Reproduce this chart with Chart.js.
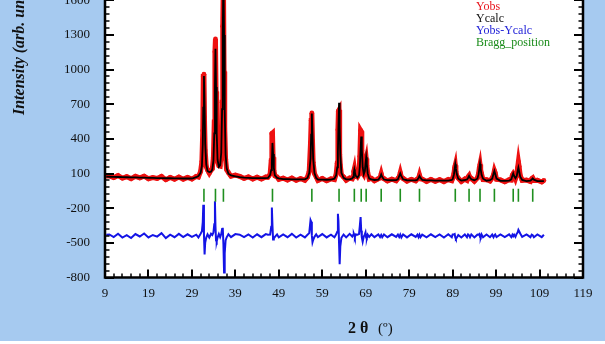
<!DOCTYPE html>
<html><head><meta charset="utf-8">
<script src="https://cdn.jsdelivr.net/npm/chart.js@4/dist/chart.umd.min.js"></script>
<style>
html,body{margin:0;padding:0;background:#fff;overflow:hidden;}
#wrap{position:relative;width:605px;height:341px;overflow:hidden;background:#A6CAF0;}
#c{position:absolute;left:0;top:-45px;width:605px;height:389px;}
</style></head><body>
<div id="wrap"><canvas id="c" width="605" height="389"></canvas></div>
<script>
// ---- data ----
const twoTheta = [9.3,10,11,12,13,14,15,16,17,18,19,20,21,22,23,24,25,26,27,28,29,
 30,30.5,31,31.3,31.5,31.62,31.77,31.92,32.05,32.3,32.6,33,33.4,33.7,33.95,34.15,34.3,34.42,34.55,34.7,34.9,35.2,35.5,35.75,35.95,36.1,36.25,36.4,36.55,36.75,37,37.4,38,39,
 40,41,42,43,44,45,46,46.5,47,47.25,47.4,47.54,47.68,47.85,48.1,48.6,49,
 50,51,52,53,54,55,55.6,56,56.3,56.45,56.6,56.75,56.9,57.2,57.6,
 58,59,60,61,61.8,62.2,62.45,62.6,62.72,62.86,63,63.15,63.4,63.9,
 64.5,65.3,65.9,66.1,66.25,66.38,66.5,66.7,
 67.1,67.45,67.65,67.82,67.96,68.1,68.3,68.55,68.8,68.95,69.1,69.25,69.45,69.8,70.3,
 71,71.9,72.3,72.56,72.8,73.2,74,75,76,76.4,76.7,76.95,77.2,77.6,78.5,79.5,80.5,80.9,81.15,81.37,81.6,82,
 83,84,85,86,87,88,88.8,89,89.3,89.47,89.61,89.75,89.95,90.3,91,91.8,92.3,92.55,92.78,93,93.3,94,94.7,94.95,95.15,95.3,95.45,95.65,96,96.8,97.6,98.1,98.4,98.61,98.8,99.1,
 100,101,102,102.5,102.75,102.94,103.15,103.45,103.75,103.95,104.13,104.3,104.55,105,106,106.9,107.2,107.43,107.7,108.5,109.5,110];

const yCalc = [73,72,71,70,69,68,67,66,65,64,63,62,61,60,59,59,58,58,57,57,57,
 68,78,106,165,351,671,945,680,360,176,122,112,116,136,211,447,854,1180,850,453,220,158,172,280,657,1305,1870,1299,645,263,145,99,84,76,
 68,65,63,61,60,60,60,62,88,130,200,365,270,150,85,62,58,
 52,51,50,50,49,50,62,105,231,437,620,437,231,105,62,
 47,47,46,47,55,86,153,286,512,712,512,260,106,63,
 50,50,58,70,105,135,112,80,
 65,85,160,310,420,312,155,94,122,186,240,183,101,57,49,
 44,47,68,93,70,48,43,42,43,50,78,101,78,50,42,41,42,46,62,79,62,45,
 40,40,39,39,39,39,45,50,92,140,180,145,95,55,39,44,48,62,79,64,50,42,55,90,140,183,140,90,55,38,42,55,95,122,97,56,
 37,36,38,50,80,100,78,60,80,120,151,120,72,45,35,38,48,58,47,34,34,34];

const yObs = [79,80,65,82,60,72,56,76,62,77,55,65,57,75,47,66,51,69,51,66,52,
 75,70,118,205,471,941,960,520,300,161,130,103,128,141,240,547,1154,1265,810,403,205,168,165,290,717,1375,1800,983,495,223,133,108,77,86,
 75,58,71,52,69,53,70,68,95,210,445,450,240,128,80,70,50,
 60,44,61,41,55,42,68,120,368,560,625,382,195,100,70,
 40,57,38,54,48,95,190,478,640,650,268,170,90,70,
 42,61,55,75,118,140,105,88,
 72,95,250,474,465,300,105,90,130,205,230,170,108,52,58,
 37,55,62,98,63,56,36,51,38,57,72,108,70,58,34,50,37,53,56,86,55,52,
 32,49,33,47,30,48,38,58,100,150,172,120,80,60,31,52,41,70,82,57,58,34,62,96,150,178,132,98,48,46,35,62,88,125,105,50,
 45,29,46,44,86,98,84,55,92,150,203,160,85,40,43,31,55,62,40,42,27,40];

const yDiff = [-430,-427,-450,-421,-454,-434,-458,-424,-445,-419,-453,-432,-446,-416,-459,-429,-451,-422,-450,-426,-448,
 -429,-453,-421,-400,-320,-170,-425,-600,-500,-455,-427,-454,-421,-432,-411,-340,-140,-355,-480,-490,-455,-424,-451,-424,-380,-370,-510,-756,-590,-480,-452,-426,-451,-424,
 -429,-451,-427,-454,-426,-451,-424,-430,-429,-360,-195,-355,-470,-462,-448,-427,-453,
 -427,-451,-422,-454,-430,-453,-430,-416,-303,-317,-435,-495,-476,-448,-427,
 -451,-424,-453,-429,-451,-426,-403,-248,-312,-502,-684,-530,-456,-429,
 -453,-422,-445,-432,-419,-432,-451,-427,
 -429,-424,-350,-276,-395,-452,-490,-446,-427,-410,-456,-461,-429,-448,-426,
 -451,-427,-450,-432,-451,-427,-451,-426,-448,-429,-450,-429,-453,-427,-453,-426,-448,-429,-450,-429,-451,-429,
 -453,-426,-450,-427,-454,-426,-451,-427,-427,-424,-453,-465,-455,-432,-453,-427,-451,-427,-435,-451,-427,-453,-429,-430,-424,-448,-453,-427,-451,-427,-451,-429,-451,-435,-427,-450,
 -427,-451,-427,-450,-430,-443,-430,-448,-421,-410,-388,-400,-419,-448,-427,-451,-429,-434,-451,-427,-451,-430];

const braggPos = [31.77,34.42,36.25,47.54,56.60,62.86,66.38,67.96,69.10,72.56,76.95,81.37,89.61,92.78,95.30,98.61,102.94,104.13,107.43];
const braggLevel = -89;

const xTicks = [9,19,29,39,49,59,69,79,89,99,109,119];
const yTicks = [-800,-500,-200,100,400,700,1000,1300,1600,1900];
const legendLabels = ['Yobs','Ycalc','Yobs-Ycalc','Bragg_position'];
const legendColors = ['#e8141c','#111111','#2222d8','#1a8c1a'];
const xTitleMain = '2 θ';
const xTitleUnit = '(º)';
const yTitle = 'Intensity (arb. units)';

const SERIF = '"Liberation Serif", "Times New Roman", serif';

const pts = ys => twoTheta.map((x,i)=>({x:x, y:ys[i]}));

const decor = {
  id:'decor',
  beforeDraw(chart){
    const {ctx, chartArea:a, width, height} = chart;
    ctx.save();
    ctx.fillStyle = '#A6CAF0'; ctx.fillRect(0,0,width,height);
    ctx.fillStyle = '#ffffff'; ctx.fillRect(a.left,a.top,a.right-a.left,a.bottom-a.top);
    ctx.restore();
  },
  afterDraw(chart){
    const {ctx, chartArea:a} = chart;
    const xs = chart.scales.x, ys = chart.scales.y;
    ctx.save();
    ctx.strokeStyle = '#000';
    const seg = (x1,y1,x2,y2,w)=>{ctx.lineWidth=w;ctx.beginPath();ctx.moveTo(x1,y1);ctx.lineTo(x2,y2);ctx.stroke();};
    for (let v=9; v<=119; v+=2){
      const px = Math.round(xs.getPixelForValue(v));
      const major = xTicks.includes(v);
      const L = major?8:4, w = major?2:1.5;
      seg(px,a.bottom,px,a.bottom-L,w);
      seg(px,a.top,px,a.top+L,w);
    }
    for (let v=-800; v<=1900; v+=60){
      const py = Math.round(ys.getPixelForValue(v));
      const major = yTicks.includes(v);
      const L = major?9:4.5, w = major?2:1.5;
      seg(a.left,py,a.left+L,py,w);
      seg(a.right,py,a.right-L,py,w);
    }
    ctx.lineWidth = 2.5;
    ctx.strokeRect(a.left,a.top,a.right-a.left,a.bottom-a.top);

    // legend
    ctx.font = '12px ' + SERIF;
    ctx.textBaseline = 'middle';
    ctx.textAlign = 'left';
    legendLabels.forEach((t,i)=>{
      ctx.fillStyle = legendColors[i];
      ctx.fillText(t, 476, 52 + i*11.8);
    });

    // x title
    ctx.fillStyle = '#111';
    ctx.textBaseline = 'alphabetic';
    ctx.font = 'bold 16px ' + SERIF;
    ctx.fillText(xTitleMain, 348, 378);
    ctx.font = '15px ' + SERIF;
    ctx.fillText(xTitleUnit, 378, 378);

    // y title
    ctx.translate(24, 160);
    ctx.rotate(-Math.PI/2);
    ctx.font = 'bold italic 16px ' + SERIF;
    ctx.fillText(yTitle, 0, 0);
    ctx.restore();
  }
};

new Chart(document.getElementById('c'), {
  type:'scatter',
  data:{
    datasets:[
      {label:'Ycalc', data:pts(yCalc), showLine:true, borderColor:'#000', borderWidth:1.8, pointRadius:0, order:0},
      {label:'Bragg_position', data:braggPos.map(x=>({x:x,y:braggLevel})), showLine:false,
        pointStyle:'line', rotation:90, pointRadius:6.5, borderColor:'#1f8f1f', pointBorderColor:'#1f8f1f', pointBorderWidth:1.6, order:1},
      {label:'Yobs-Ycalc', data:pts(yDiff), showLine:true, borderColor:'#1414e6', borderWidth:2, pointRadius:0, order:2},
      {label:'Yobs', data:pts(yObs), showLine:true, borderColor:'#ee1111', borderWidth:5, pointRadius:2.4,
        pointBackgroundColor:'#ee1111', pointBorderWidth:0, order:3}
    ]
  },
  options:{
    responsive:false, animation:false, devicePixelRatio:1,
    layout:{padding:{left:0,right:22,top:10.6,bottom:0}},
    plugins:{legend:{display:false}, tooltip:{enabled:false}},
    scales:{
      x:{type:'linear', min:9, max:119,
        afterBuildTicks:s=>{s.ticks = xTicks.map(v=>({value:v}));},
        afterFit:s=>{s.height = 66.5; s.paddingLeft = 0; s.paddingRight = 0;},
        grid:{display:false, drawTicks:false}, border:{display:false},
        ticks:{padding:8, color:'#111', font:{family:SERIF, size:13}, callback:v=>String(v), maxRotation:0, autoSkip:false}
      },
      y:{type:'linear', min:-800, max:1900,
        afterBuildTicks:s=>{s.ticks = yTicks.map(v=>({value:v}));},
        afterFit:s=>{s.width = 105; s.paddingTop = 0; s.paddingBottom = 0;},
        grid:{display:false, drawTicks:false}, border:{display:false},
        ticks:{padding:15, color:'#111', font:{family:SERIF, size:13}, callback:v=>String(v), autoSkip:false}
      }
    }
  },
  plugins:[decor]
});
</script>
</body></html>
